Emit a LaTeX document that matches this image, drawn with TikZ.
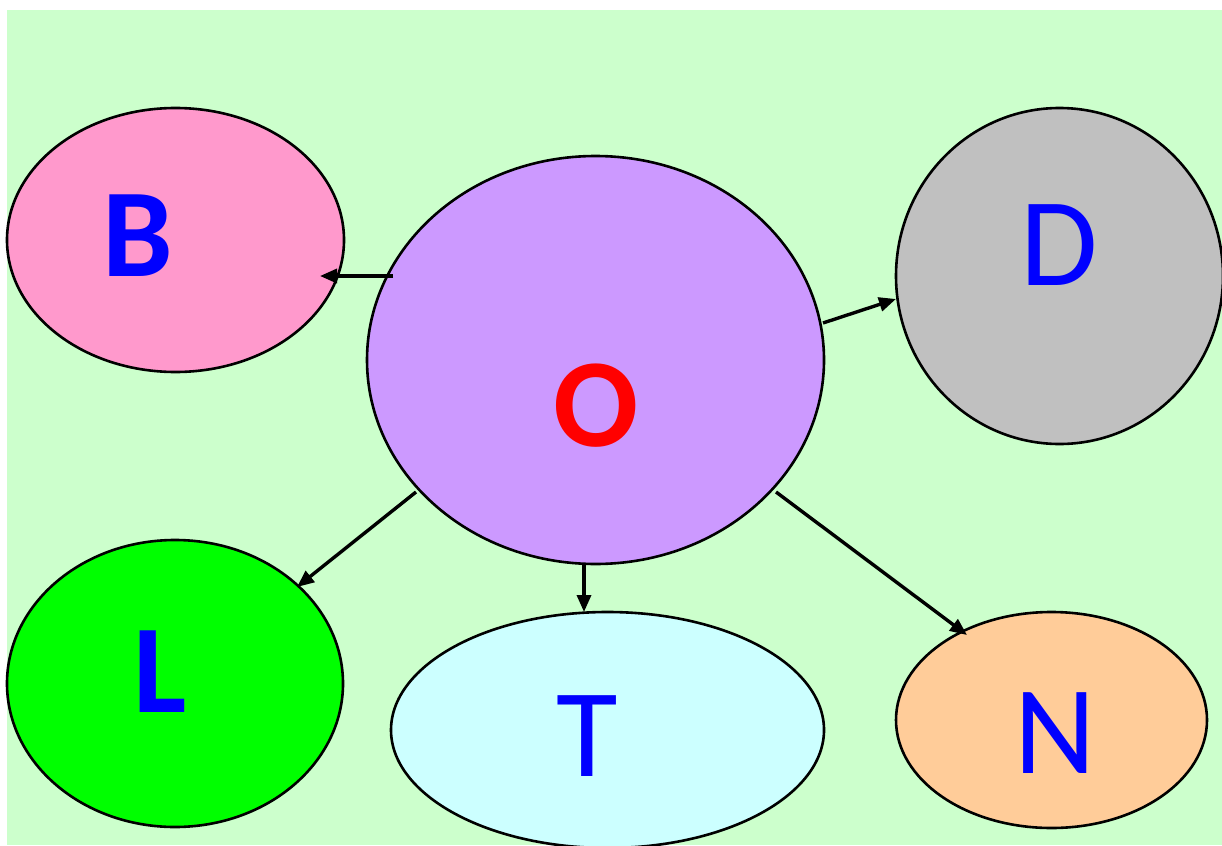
\documentclass[tikz,border=0pt]{standalone}
\usepackage{fontspec}
\setmainfont{Carlito}
\usetikzlibrary{shapes.geometric,arrows.meta}
\definecolor{bggreen}{HTML}{CCFFCC}
\definecolor{bpink}{HTML}{FF99CC}
\definecolor{opurple}{HTML}{CC99FF}
\definecolor{dgray}{HTML}{C0C0C0}
\definecolor{lgreen}{HTML}{00FF00}
\definecolor{tcyan}{HTML}{CCFFFF}
\definecolor{npeach}{HTML}{FFCC99}
\tikzset{
  blob/.style={ellipse, draw=black, line width=2.6pt, inner sep=0pt},
  lbl/.style={inner sep=0pt, font=\fontsize{126}{126}\selectfont, text=blue},
  conn/.style={line width=3.4pt, -{Triangle[length=17pt,width=14pt]}},
}
\begin{document}
\begin{tikzpicture}[x=1pt,y=-1pt]
\useasboundingbox (0,0) rectangle (1222,845);
\fill[bggreen] (7,10) rectangle (1222,845);
\node[blob, fill=bpink, minimum width=337pt, minimum height=264pt] (B) at (175.5,240) {};
\node[blob, fill=opurple, minimum width=457pt, minimum height=408pt] (O) at (595.5,360) {};
\node[blob, fill=dgray, minimum width=327pt, minimum height=336pt] (D) at (1059.5,276) {};
\node[blob, fill=lgreen, minimum width=336pt, minimum height=287pt] (L) at (175,683.5) {};
\node[blob, fill=tcyan, minimum width=433pt, minimum height=236pt] (T) at (607.5,730) {};
\node[blob, fill=npeach, minimum width=311pt, minimum height=216pt] (N) at (1051.5,720) {};
\node[lbl, font=\fontsize{126}{126}\selectfont\bfseries] (tB) at (138,236) {B};
\node[lbl, font=\fontsize{126}{126}\selectfont\bfseries, text=red] (tO) at (596,406) {O};
\node[lbl] (tD) at (1059,245) {D};
\node[lbl, font=\fontsize{126}{126}\selectfont\bfseries] (tL) at (160,672) {L};
\node[lbl] (tT) at (587,736) {T};
\node[lbl] (tN) at (1055,733) {N};
\coordinate (oB) at (393,276);
\coordinate (eB) at (320,276);
\coordinate (oD) at (823,323);
\coordinate (eD) at (896,299);
\coordinate (oL) at (416,492);
\coordinate (eL) at (297,587);
\coordinate (oT) at (584,564);
\coordinate (eT) at (584,612);
\coordinate (oN) at (776,492);
\coordinate (eN) at (967,635);
\draw[conn] (oB) -- (eB);
\draw[conn] (oD) -- (eD);
\draw[conn] (oL) -- (eL);
\draw[conn] (oT) -- (eT);
\draw[conn] (oN) -- (eN);
\end{tikzpicture}
\end{document}
